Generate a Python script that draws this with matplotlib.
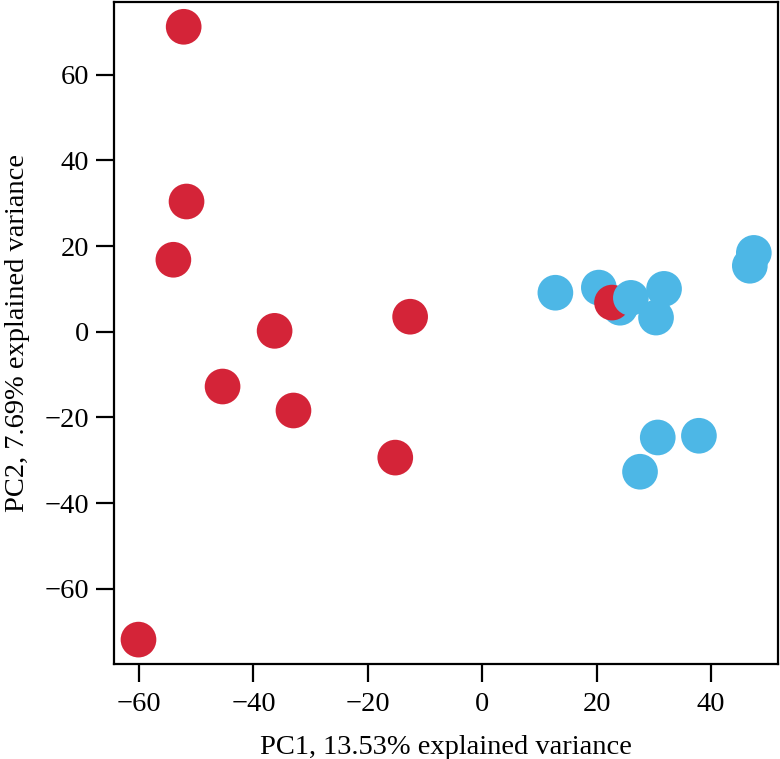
import matplotlib.pyplot as plt

# PCA scores, in drawing order
pc1 = [-52.2, -51.7, -54.0, -36.3, -45.4, -33.0, -12.6, -15.2, -60.1,
       12.8, 20.4, 24.1, 22.7, 26.0, 31.8, 30.4, 46.8, 47.5, 30.7, 37.9, 27.6]
pc2 = [71.2, 30.4, 16.8, 0.2, -12.8, -18.4, 3.5, -29.4, -71.9,
       9.1, 10.3, 5.6, 6.8, 7.9, 10.0, 3.3, 15.4, 18.4, -24.7, -24.3, -32.7]
group = ['red'] * 9 + ['blue'] * 3 + ['red'] + ['blue'] * 8

colors = {'red': '#D42438', 'blue': '#4DB7E6'}
xticks = [-60, -40, -20, 0, 20, 40]
yticks = [-60, -40, -20, 0, 20, 40, 60]

plt.rcParams['font.family'] = ['Liberation Serif', 'DejaVu Serif']

fig = plt.figure(figsize=(7.8, 7.59), dpi=100)
ax = fig.add_axes([0.146, 0.125, 0.852, 0.872])

for x, y, g in zip(pc1, pc2, group):
    ax.scatter(x, y, s=660, c=colors[g], edgecolors='none')

# R-style 4% padding
xr = max(pc1) - min(pc1)
yr = max(pc2) - min(pc2)
ax.set_xlim(min(pc1) - 0.04 * xr, max(pc1) + 0.04 * xr)
ax.set_ylim(min(pc2) - 0.04 * yr, max(pc2) + 0.04 * yr)

ax.set_xticks(xticks)
ax.set_yticks(yticks)
ax.set_xticklabels([str(t).replace('-', '\u2212') for t in xticks])
ax.set_yticklabels([str(t).replace('-', '\u2212') for t in yticks])
ax.tick_params(length=13, width=1.6, labelsize=20.5)
ax.tick_params(axis='x', pad=7)
ax.tick_params(axis='y', pad=5)

for s in ax.spines.values():
    s.set_linewidth(1.6)

ax.set_xlabel('PC1, 13.53% explained variance', fontsize=20.5, labelpad=13)
ax.set_ylabel('PC2, 7.69% explained variance', fontsize=20.5, labelpad=10)

fig.savefig('out.png', dpi=100)
